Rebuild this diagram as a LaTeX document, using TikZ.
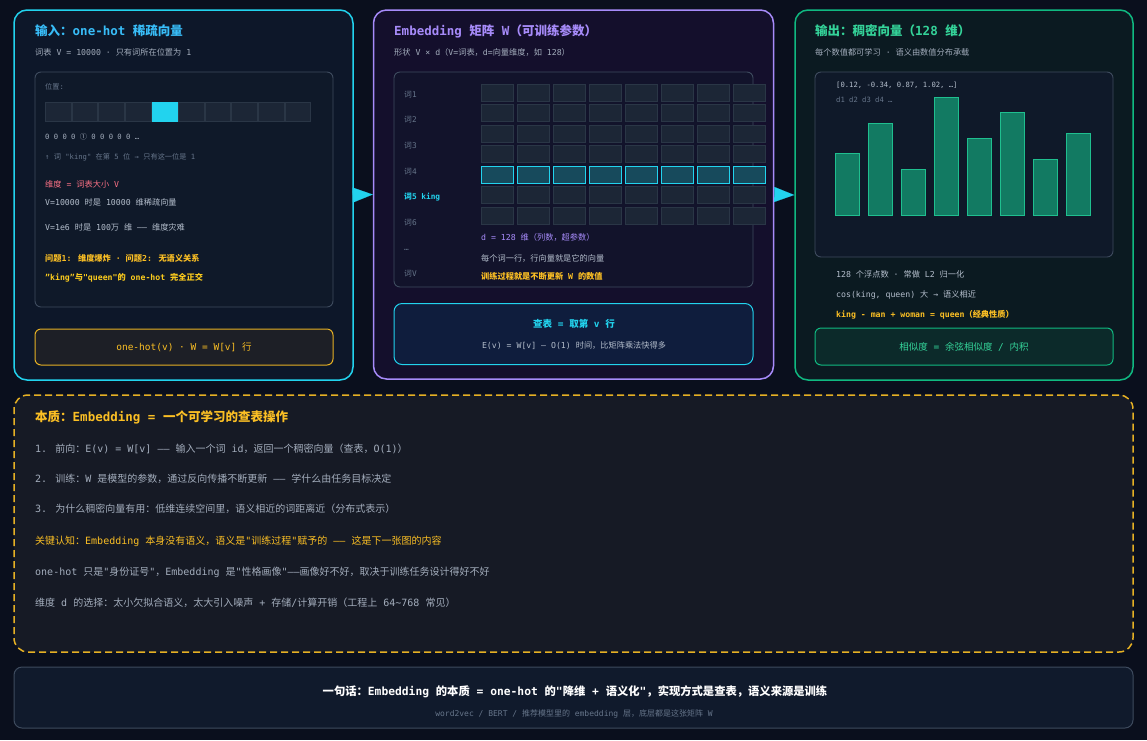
\documentclass[tikz,border=0pt]{standalone}
\usepackage{fontspec}
\setmainfont{DejaVu Sans Mono}
\newfontfamily\latfont{DejaVu Sans Mono}
\newfontfamily\cjkfont{Noto Sans CJK SC}
\usetikzlibrary{arrows.meta,positioning}

% Chinese characters go to the CJK font, the rest stays monospaced
\XeTeXinterchartokenstate=1
\newXeTeXintercharclass\cjkclass
\newcount\cjkcode
\def\setcjkrange#1#2{\cjkcode=#1\relax
  \loop\XeTeXcharclass\cjkcode=\cjkclass\relax
  \ifnum\cjkcode<#2\advance\cjkcode by 1\repeat}
\setcjkrange{"3000}{"303F}
\setcjkrange{"4E00}{"9FFF}
\setcjkrange{"FF00}{"FFEF}
\XeTeXcharclass"2460=\cjkclass
\XeTeXinterchartoks 0 \cjkclass = {\cjkfont}
\XeTeXinterchartoks 4095 \cjkclass = {\cjkfont}
\XeTeXinterchartoks \cjkclass 0 = {\latfont}
\XeTeXinterchartoks \cjkclass 4095 = {\latfont}

\definecolor{bgnavy}{HTML}{0A0F1D}
\definecolor{cyanc}{HTML}{22D3EE}
\definecolor{skyt}{HTML}{38BDF8}
\definecolor{purp}{HTML}{A78BFA}
\definecolor{greenb}{HTML}{10B981}
\definecolor{greent}{HTML}{34D399}
\definecolor{amber}{HTML}{FBBF24}
\definecolor{amberb}{HTML}{E5B024}
\definecolor{pinkt}{HTML}{FB7185}
\definecolor{txtgray}{HTML}{B4BECC}
\definecolor{subgray}{HTML}{A3ADBC}
\definecolor{dimgray}{HTML}{66758A}
\definecolor{edgegray}{HTML}{3E4B5E}
\definecolor{leftfill}{HTML}{0D1729}
\definecolor{midfill}{HTML}{140F2C}
\definecolor{rightfill}{HTML}{0B1A21}
\definecolor{innerfill}{HTML}{0F1929}
\definecolor{midinner}{HTML}{12132B}
\definecolor{cellfill}{HTML}{1C2636}
\definecolor{celledge}{HTML}{2A3646}
\definecolor{hotfill}{HTML}{174A5C}
\definecolor{barfill}{HTML}{127A62}
\definecolor{baredge}{HTML}{1FBF8F}
\definecolor{ohfill}{HTML}{1D1F26}
\definecolor{lookfill}{HTML}{0F1D3D}
\definecolor{simfill}{HTML}{0C2A2A}
\definecolor{dashfill}{HTML}{161A25}
\definecolor{footfill}{HTML}{101A2C}

\begin{document}
\begin{tikzpicture}[x=1pt,y=-1pt,>={Triangle[length=20pt,width=15pt]}]
        \tikzstyle{panel}=[rectangle,rounded corners=13pt,line width=1.5pt,inner sep=0pt]
        \tikzstyle{inbox}=[rectangle,rounded corners=6pt,line width=0.9pt,draw=edgegray,fill=innerfill,inner sep=0pt]
        \tikzstyle{lkbox}=[rectangle,rounded corners=6pt,line width=1pt,inner sep=0pt]
        \tikzstyle{ttl}=[anchor=west,inner sep=0pt,font=\fontsize{12.5}{14}\selectfont\bfseries]
        \tikzstyle{txt}=[anchor=west,inner sep=0pt,text=txtgray,font=\fontsize{8.2}{10}\selectfont]
        \tikzstyle{txtb}=[txt,font=\fontsize{8.2}{10}\selectfont\bfseries]
        \tikzstyle{line}=[anchor=west,inner sep=0pt,text=subgray,font=\fontsize{10}{12}\selectfont]
        \tikzstyle{tiny}=[anchor=west,inner sep=0pt,text=dimgray,font=\fontsize{7.2}{9}\selectfont]
        \tikzstyle{cell}=[rectangle,draw=celledge,fill=cellfill,line width=0.6pt,inner sep=0pt]
        \tikzstyle{barbox}=[draw=baredge,fill=barfill,line width=0.8pt]

        \fill [bgnavy] (0,0) rectangle (1147,740);

        \node [panel,draw=cyanc,fill=leftfill,minimum width=339pt,minimum height=370pt] (onehot) at (183.5,195) {}; %input
        \node [panel,draw=purp,fill=midfill,minimum width=400pt,minimum height=369pt] (matrix) at (573.5,194.5) {}; %W
        \node [panel,draw=greenb,fill=rightfill,minimum width=338pt,minimum height=370pt] (dense) at (964,195) {}; %output
        \draw [->,cyanc,line width=0.1pt] (onehot.east) -- (matrix.west);
        \draw [->,cyanc,line width=0.1pt] (matrix.east) -- (dense.west);

        % left: one-hot
        \node [ttl,text=skyt] (t1) at (35,31) {输入：one-hot 稀疏向量};
        \node [txt,text=subgray] (s1) at (35,52) {词表 V = 10000 · 只有词所在位置为 1};
        \node [inbox,minimum width=298pt,minimum height=235pt] (ohbox) at (184,189.5) {};
        \node [tiny] (pos) at (45,87) {位置:};
        \foreach \i in {0,1,2,3,5,6,7,8,9}
            \node [cell,minimum width=25.6pt,minimum height=19pt] (oh\i) at (58.3+26.6*\i,111.5) {};
        \node [cell,draw=cyanc,fill=cyanc,minimum width=25.6pt,minimum height=19pt] (oh4) at (164.7,111.5) {};
        \node [tiny,text=subgray] (zeros) at (45,137) {0 0 0 0 ① 0 0 0 0 0 …};
        \node [tiny] (kingpos) at (45,157) {↑ 词 "king" 在第 5 位 → 只有这一位是 1};
        \node [txt,text=pinkt] (dimA) at (45,184) {维度 = 词表大小 V};
        \node [txt] (dimB) at (45,202) {V=10000 时是 10000 维稀疏向量};
        \node [txt] (dimC) at (45,227) {V=1e6 时是 100万 维 —— 维度灾难};
        \node [txtb,text=amber] (probA) at (45,258) {问题1: 维度爆炸 · 问题2: 无语义关系};
        \node [txtb,text=amber!80!yellow] (probB) at (45,278) {"king"与"queen"的 one-hot 完全正交};
        \node [lkbox,draw=amberb,fill=ohfill,minimum width=298pt,minimum height=36pt,text=amber,font=\fontsize{9.5}{11}\selectfont] (ohW) at (184,347) {one-hot(v) · W = W[v] 行};

        % middle: matrix W
        \node [ttl,text=purp] (t2) at (394,31) {Embedding 矩阵 W（可训练参数）};
        \node [txt,text=subgray] (s2) at (394,52) {形状 V × d（V=词表，d=向量维度，如 128）};
        \node [inbox,fill=midinner,minimum width=359pt,minimum height=215pt] (wbox) at (573.5,179.5) {};
        \foreach \lab/\y/\nm in {词1/95/r1,词2/120/r2,词3/146/r3,词4/172/r4,词6/223/r6,…/250/rdots,词V/274/rV}
            \node [tiny,font=\fontsize{7.8}{9}\selectfont] (\nm) at (404,\y) {\lab};
        \node [tiny,text=cyanc,font=\fontsize{7.8}{9}\selectfont\bfseries] (r5) at (404,197) {词5 king};
        \foreach \r in {0,1,2,3,5,6}
            \foreach \c in {0,...,7}
                \node [cell,minimum width=32pt,minimum height=17pt] (w\r\c) at (497+36*\c,92.5+20.5*\r) {};
        \foreach \c in {0,...,7}
            \node [cell,draw=cyanc,fill=hotfill,line width=1pt,minimum width=32pt,minimum height=17pt] (w4\c) at (497+36*\c,174.5) {};
        \node [txt,text=purp] (dcol) at (481,237) {d = 128 维（列数，超参数）};
        \node [txt] (rowv) at (481,258) {每个词一行，行向量就是它的向量};
        \node [txtb,text=amber] (upd) at (481,276) {训练过程就是不断更新 W 的数值};
        \node [lkbox,draw=cyanc,fill=lookfill,rounded corners=8pt,minimum width=359pt,minimum height=61pt] (lookup) at (573.5,334) {};
        \node [txtb,anchor=center,text=cyanc,font=\fontsize{9.5}{11}\selectfont\bfseries] (lkA) at (574,324) {查表 = 取第 v 行};
        \node [txt,anchor=center] (lkB) at (574,346) {E(v) = W[v] — O(1) 时间，比矩阵乘法快得多};

        % right: dense vector
        \node [ttl,text=greent] (t3) at (815,31) {输出：稠密向量（128 维）};
        \node [txt,text=subgray] (s3) at (815,52) {每个数值都可学习 · 语义由数值分布承载};
        \node [inbox,fill=innerfill,minimum width=298pt,minimum height=185pt] (vbox) at (964,164.5) {};
        \node [tiny,text=txtgray] (vals) at (836,85) {[0.12, -0.34, 0.87, 1.02, …]};
        \node [tiny] (dims) at (836,100) {d1 d2 d3 d4 …};
        \foreach \i/\top in {0/153,1/123,2/169,3/97,4/138,5/112,6/159,7/133}
            \draw [barbox] (835+33*\i,\top) rectangle (859+33*\i,215);
        \node [txt] (floats) at (836,274) {128 个浮点数 · 常做 L2 归一化};
        \node [txt] (cosq) at (836,295) {cos(king, queen) 大 → 语义相近};
        \node [txtb,text=amber] (kmw) at (836,315) {king - man + woman = queen（经典性质）};
        \node [lkbox,draw=greenb,fill=simfill,minimum width=298pt,minimum height=37pt,text=greent,font=\fontsize{9.5}{11}\selectfont] (sim) at (964,346.5) {相似度 = 余弦相似度 / 内积};

        % essence box
        \node [rectangle,rounded corners=14pt,draw=amberb,dash pattern=on 7pt off 4pt,line width=1.5pt,fill=dashfill,minimum width=1119pt,minimum height=257pt] (essence) at (573.5,523.5) {};
        \node [ttl,text=amber] (t4) at (35,417) {本质：Embedding = 一个可学习的查表操作};
        \node [line] (e1) at (35,449) {1. 前向：E(v) = W[v] —— 输入一个词 id，返回一个稠密向量（查表，O(1)）};
        \node [line] (e2) at (35,479) {2. 训练：W 是模型的参数，通过反向传播不断更新 —— 学什么由任务目标决定};
        \node [line] (e3) at (35,509) {3. 为什么稠密向量有用：低维连续空间里，语义相近的词距离近（分布式表示）};
        \node [line,text=amber] (e4) at (35,541) {关键认知：Embedding 本身没有语义，语义是"训练过程"赋予的 —— 这是下一张图的内容};
        \node [line] (e5) at (35,572) {one-hot 只是"身份证号"，Embedding 是"性格画像"——画像好不好，取决于训练任务设计得好不好};
        \node [line] (e6) at (35,603) {维度 d 的选择：太小欠拟合语义，太大引入噪声 + 存储/计算开销（工程上 64\textasciitilde768 常见）};

        % summary
        \node [rectangle,rounded corners=8pt,draw=edgegray,line width=1pt,fill=footfill,minimum width=1119pt,minimum height=61pt] (summary) at (573.5,697.5) {};
        \node [anchor=center,inner sep=0pt,text=white,font=\fontsize{11.3}{13}\selectfont\bfseries] (oneline) at (575,692) {一句话：Embedding 的本质 = one-hot 的"降维 + 语义化"，实现方式是查表，语义来源是训练};
        \node [tiny,anchor=center,font=\fontsize{8}{9}\selectfont] (tail) at (574,714) {word2vec / BERT / 推荐模型里的 embedding 层，底层都是这张矩阵 W};
\end{tikzpicture}
\end{document}
